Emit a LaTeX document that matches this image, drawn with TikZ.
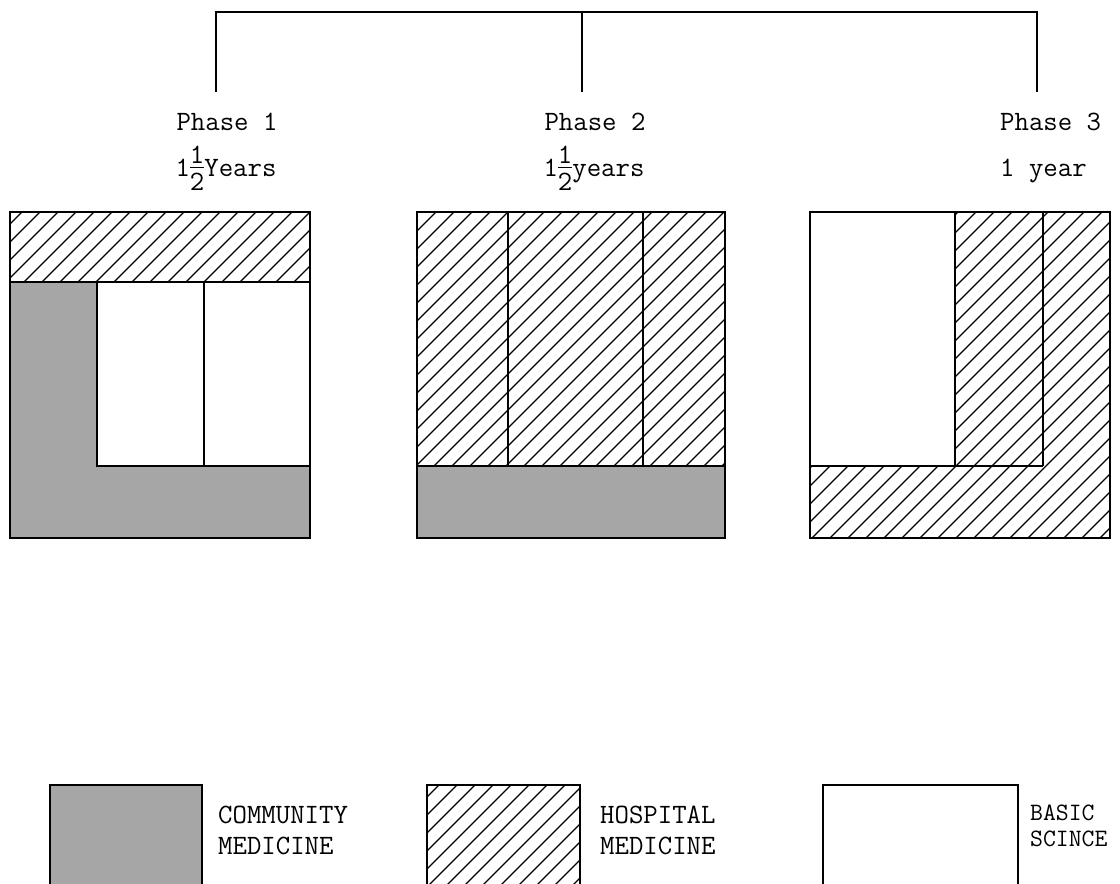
\documentclass[tikz,border=0pt]{standalone}
\usepackage{fontspec}
\newcommand\hatchpath[1]{\begin{scope}\clip #1;\foreach \c in {0,18,...,2300} {\draw[hatchline] (\c,0) -- (\c-1000,1000);}\end{scope}}
\newcommand\halfstack{\rlap{\raisebox{0.46em}{1}}\rlap{\raisebox{-0.5em}{2}}\rlap{\raisebox{0.27em}{\rule{0.5em}{0.035em}}}\hphantom{1}}
\tikzset{
  boxline/.style={draw=black, line width=1.5pt},
  hatchline/.style={line width=1.1pt},
  stipple/.style={fill=black!35},
  lbl/.style={font=\fontsize{28}{32}\selectfont\ttfamily, inner sep=0pt},
  slbl/.style={font=\fontsize{25}{28}\selectfont\ttfamily, inner sep=0pt},
  conn/.style={line width=1.6pt},
}
\begin{document}
\begin{tikzpicture}[x=1pt,y=-1pt]
\useasboundingbox (0,0) rectangle (1120,884);
% labels
\node[lbl, anchor=base] (p1) at (227,130) {Phase 1};
\node[lbl, anchor=base] (p1y) at (226,176) {1\halfstack Years};
\node[lbl, anchor=base] (p2) at (595,130) {Phase 2};
\node[lbl, anchor=base] (p2y) at (594,176) {1\halfstack years};
\node[lbl, anchor=base west] (p3) at (1000,130) {Phase 3};
\node[lbl, anchor=base west] (p3y) at (1000,176) {1 year};
% tree connector
\coordinate (t1) at (216,92);
\coordinate (t2) at (582,92);
\coordinate (t3) at (1037,92);
\coordinate (top) at (582,12);
\draw[conn] (t1) |- (top) -| (t3);
\draw[conn] (top) -- (t2);
% box 1
\hatchpath{(10,212) rectangle (310,282)}
\fill[stipple] (10,282) -- (97,282) -- (97,466) -- (310,466) -- (310,538) -- (10,538) -- cycle;
\draw[boxline] (10,212) rectangle (310,538);
\draw[boxline] (10,282) -- (310,282);
\draw[boxline] (97,282) -- (97,466) -- (310,466);
\draw[boxline] (204,282) -- (204,466);
% box 2
\hatchpath{(417,212) rectangle (725,466)}
\fill[stipple] (417,466) rectangle (725,538);
\draw[boxline] (417,212) rectangle (725,538);
\draw[boxline] (417,466) -- (725,466);
\draw[boxline] (508,212) -- (508,466);
\draw[boxline] (643,212) -- (643,466);
% box 3
\hatchpath{(955,212) -- (1110,212) -- (1110,538) -- (810,538) -- (810,466) -- (955,466) -- cycle}
\draw[boxline] (810,212) rectangle (1110,538);
\draw[boxline] (955,212) -- (955,466);
\draw[boxline] (810,466) -- (1043,466);
\draw[boxline] (1043,212) -- (1043,466);
% legend
\fill[stipple] (50,785) rectangle (202,900);
\draw[boxline] (50,785) rectangle (202,900);
\hatchpath{(427,785) rectangle (580,900)}
\draw[boxline] (427,785) rectangle (580,900);
\draw[boxline] (823,785) rectangle (1018,900);
\node[lbl, anchor=base west] (c1) at (218,823) {COMMUNITY};
\node[lbl, anchor=base west] (c2) at (218,854) {MEDICINE};
\node[lbl, anchor=base west] (h1) at (600,823) {HOSPITAL};
\node[lbl, anchor=base west] (h2) at (600,854) {MEDICINE};
\node[slbl, anchor=base west] (b1) at (1030,820) {BASIC};
\node[slbl, anchor=base west] (b2) at (1030,846) {SCINCE};
\end{tikzpicture}
\end{document}
